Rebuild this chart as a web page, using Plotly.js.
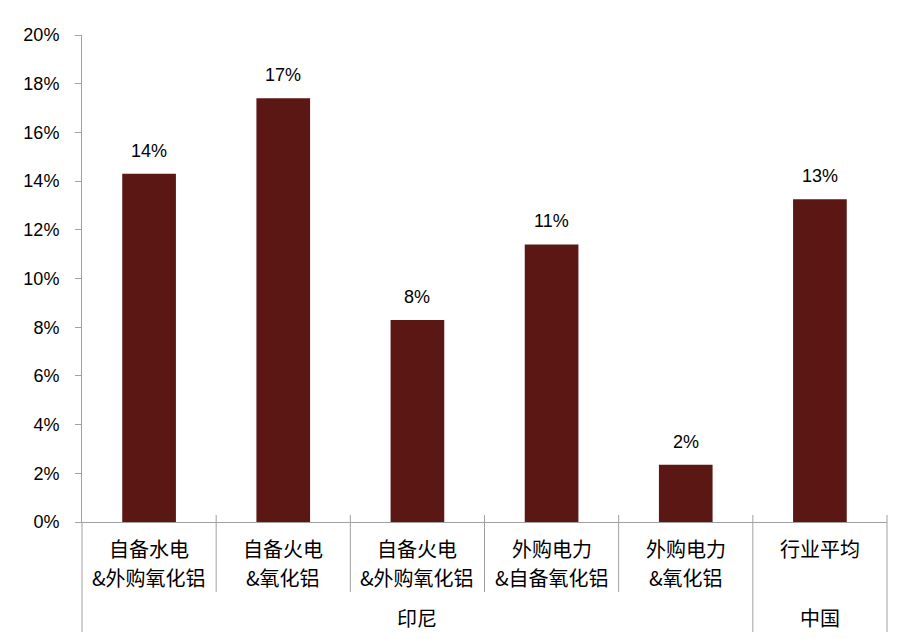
<!DOCTYPE html>
<html>
<head>
<meta charset="utf-8">
<script src="https://cdn.plot.ly/plotly-3.0.1.min.js"></script>
<style>html,body{margin:0;padding:0;background:#fff;}#chart{width:915px;height:639px;}</style>
</head>
<body>
<div id="chart"></div>
<script>
// Data
const catLine1 = ['自备水电', '自备火电', '自备火电', '外购电力', '外购电力', '行业平均'];
const catLine2 = ['&外购氧化铝', '&氧化铝', '&外购氧化铝', '&自备氧化铝', '&氧化铝', ''];
const values = [14.3, 17.4, 8.3, 11.4, 2.35, 13.25];
const valueLabels = ['14%', '17%', '8%', '11%', '2%', '13%'];
const groups = ['印尼', '中国'];
const groupSizes = [5, 1];
const yTickSuffix = '%';

const categories = catLine1.map((a, i) => a + catLine2[i]);
const n = categories.length;

const latin = 'Liberation Sans, Arial, sans-serif';
const cjk = 'Noto Sans CJK SC, sans-serif';
const grey = '#a0a0a0';
const plotTop = 35, plotBottom = 522, plotH = plotBottom - plotTop;
const py = p => (plotBottom - p) / plotH; // pixel row -> paper y

const trace = {
  type: 'bar',
  x: categories,
  y: values,
  width: 0.4,
  marker: {color: '#5b1713', line: {width: 0}},
  hoverinfo: 'skip'
};

const annotations = [];
categories.forEach((c, i) => {
  annotations.push({x: c, y: values[i], xref: 'x', yref: 'y', text: valueLabels[i],
    showarrow: false, xanchor: 'center', yanchor: 'bottom', yshift: 11,
    font: {family: latin, size: 18, color: '#000'}});
  annotations.push({x: c, y: py(548), xref: 'x', yref: 'paper', text: catLine1[i],
    showarrow: false, xanchor: 'center', yanchor: 'middle', font: {family: cjk, size: 20, color: '#000'}});
  if (catLine2[i]) annotations.push({x: c, y: py(577), xref: 'x', yref: 'paper', text: catLine2[i],
    showarrow: false, xanchor: 'center', yanchor: 'middle', font: {family: cjk, size: 20, color: '#000'}});
});

const shapes = [];
let start = 0;
const groupEnds = new Set();
groups.forEach((g, gi) => {
  const end = start + groupSizes[gi];
  groupEnds.add(end);
  annotations.push({x: (start + end) / 2 / n, y: py(617), xref: 'paper', yref: 'paper', text: g,
    showarrow: false, xanchor: 'center', yanchor: 'middle', font: {family: cjk, size: 20, color: '#000'}});
  start = end;
});
// left edge (continuation of y axis)
shapes.push({type: 'line', xref: 'paper', yref: 'paper', x0: 0, x1: 0, y0: 0, y1: py(632),
  line: {color: grey, width: 1}});
for (let k = 1; k <= n; k++) {
  const isGroup = groupEnds.has(k);
  shapes.push({type: 'line', xref: 'paper', yref: 'paper', x0: k / n, x1: k / n,
    y0: py(515), y1: isGroup ? py(632) : py(592), line: {color: grey, width: 1}});
}

const layout = {
  width: 915, height: 639,
  margin: {l: 82, r: 28, t: plotTop, b: 639 - plotBottom, pad: 0},
  paper_bgcolor: '#fff', plot_bgcolor: '#fff',
  showlegend: false,
  xaxis: {type: 'category', range: [-0.5, n - 0.5], showticklabels: false, ticks: '',
    showline: true, linecolor: grey, linewidth: 1, showgrid: false, zeroline: false, fixedrange: true},
  yaxis: {range: [0, 20], dtick: 2, tick0: 0, ticksuffix: yTickSuffix, ticks: 'outside', ticklen: 6,
    tickcolor: grey, tickwidth: 1, showline: true, linecolor: grey, linewidth: 1,
    showgrid: false, zeroline: false, ticklabelstandoff: 12,
    tickfont: {family: latin, size: 18, color: '#000'}, fixedrange: true},
  annotations: annotations,
  shapes: shapes
};

Plotly.newPlot('chart', [trace], layout, {displayModeBar: false, staticPlot: true});
</script>
</body>
</html>
